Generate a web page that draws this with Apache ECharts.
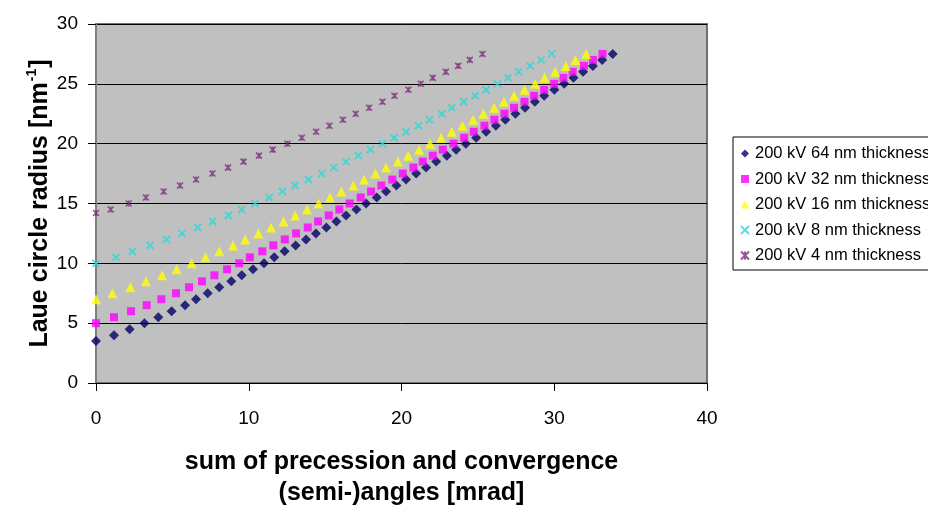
<!DOCTYPE html>
<html>
<head>
<meta charset="utf-8">
<script src="https://cdn.jsdelivr.net/npm/echarts@6/dist/echarts.min.js"></script>
<style>
  html, body { margin: 0; padding: 0; background: #fff; }
  #chart { width: 928px; height: 506px; }
</style>
</head>
<body>
<div id="chart"></div>
<script>
// [mrad, nm^-1] pairs
var thick64 = [[0,3.5],[1.18,4],[2.2,4.5],[3.17,5],[4.08,5.5],[4.95,6],[5.83,6.5],[6.55,7],[7.31,7.5],[8.07,8],
  [8.86,8.5],[9.54,9],[10.28,9.5],[11,10],[11.67,10.5],[12.35,11],[13.07,11.5],[13.75,12],[14.4,12.5],[15.08,13],
  [15.74,13.5],[16.37,14],[17.05,14.5],[17.68,15],[18.38,15.5],[18.99,16],[19.67,16.5],[20.3,17],[20.96,17.5],[21.61,18],
  [22.27,18.5],[22.97,19],[23.58,19.5],[24.21,20],[24.89,20.5],[25.54,21],[26.18,21.5],[26.8,22],[27.46,22.5],[28.09,23],
  [28.73,23.5],[29.34,24],[30.01,24.5],[30.65,25],[31.26,25.5],[31.89,26],[32.53,26.5],[33.14,27],[33.83,27.5]];
var thick32 = [[0,5],[1.18,5.5],[2.29,6],[3.32,6.5],[4.28,7],[5.24,7.5],[6.09,8],[6.94,8.5],[7.75,9],[8.58,9.5],
  [9.38,10],[10.07,10.5],[10.89,11],[11.61,11.5],[12.36,12],[13.1,12.5],[13.86,13],[14.54,13.5],[15.24,14],[15.93,14.5],
  [16.61,15],[17.33,15.5],[18.01,16],[18.68,16.5],[19.4,17],[20.08,17.5],[20.78,18],[21.39,18.5],[22.05,19],[22.7,19.5],
  [23.4,20],[24.1,20.5],[24.73,21],[25.43,21.5],[26.08,22],[26.74,22.5],[27.37,23],[28.05,23.5],[28.68,24],[29.34,24.5],
  [30,25],[30.6,25.5],[31.2,26],[31.94,26.5],[32.53,27],[33.16,27.5]];
var thick16 = [[0,7],[1.07,7.5],[2.25,8],[3.27,8.5],[4.32,9],[5.28,9.5],[6.26,10],[7.16,10.5],[8.07,11],[8.97,11.5],
  [9.77,12],[10.63,12.5],[11.46,13],[12.27,13.5],[13.03,14],[13.82,14.5],[14.58,15],[15.32,15.5],[16.06,16],[16.85,16.5],
  [17.55,17],[18.29,17.5],[18.99,18],[19.76,18.5],[20.44,19],[21.15,19.5],[21.87,20],[22.59,20.5],[23.29,21],[23.99,21.5],
  [24.69,22],[25.36,22.5],[26.06,23],[26.7,23.5],[27.37,24],[28.05,24.5],[28.75,25],[29.36,25.5],[30.06,26],[30.76,26.5],
  [31.39,27],[32.09,27.5]];
var thick8 = [[0,10],[1.31,10.5],[2.38,11],[3.54,11.5],[4.61,12],[5.63,12.5],[6.66,13],[7.64,13.5],[8.67,14],[9.54,14.5],
  [10.41,15],[11.33,15.5],[12.2,16],[13.03,16.5],[13.9,17],[14.78,17.5],[15.57,18],[16.37,18.5],[17.18,19],[17.96,19.5],
  [18.75,20],[19.52,20.5],[20.3,21],[21.1,21.5],[21.83,22],[22.64,22.5],[23.29,23],[24.08,23.5],[24.82,24],[25.54,24.5],
  [26.28,25],[26.96,25.5],[27.66,26],[28.42,26.5],[29.14,27],[29.84,27.5]];
var thick4 = [[0,14.2],[0.96,14.5],[2.14,15],[3.27,15.5],[4.43,16],[5.5,16.5],[6.55,17],[7.62,17.5],[8.64,18],[9.66,18.5],
  [10.67,19],[11.57,19.5],[12.53,20],[13.47,20.5],[14.41,21],[15.28,21.5],[16.16,22],[17,22.5],[17.88,23],[18.75,23.5],
  [19.54,24],[20.45,24.5],[21.26,25],[22.05,25.5],[22.9,26],[23.71,26.5],[24.47,27],[25.3,27.5]];

var seriesNames = ['200 kV 64 nm thickness', '200 kV 32 nm thickness', '200 kV 16 nm thickness',
  '200 kV 8 nm thickness', '200 kV 4 nm thickness'];
var xTicks = [0, 10, 20, 30, 40];
var yTicks = [0, 5, 10, 15, 20, 25, 30];

var font = '"Liberation Sans", Arial, sans-serif';
var crossPath = 'path://M0,0L10,10M10,0L0,10';
var starPath = 'path://M0,0L10,10M10,0L0,10M5,0L5,10';

var chart = echarts.init(document.getElementById('chart'));

chart.setOption({
  animation: false,
  backgroundColor: '#fff',
  grid: {
    left: 96, top: 24, right: 221, bottom: 123,
    outerBoundsMode: 'none',
    containLabel: false,
    show: true,
    backgroundColor: '#c0c0c0',
    borderColor: '#707070',
    borderWidth: 2
  },
  legend: {
    orient: 'vertical',
    left: 733, top: 137,
    padding: [8, 10, 6, 7],
    itemGap: 8.5,
    itemWidth: 8, itemHeight: 8,
    borderColor: '#000', borderWidth: 1,
    backgroundColor: '#fff',
    textStyle: { fontFamily: font, fontSize: 16.5, color: '#000', padding: [0, 0, 0, 1] },
    data: seriesNames
  },
  xAxis: {
    type: 'value',
    min: xTicks[0], max: xTicks[xTicks.length - 1], interval: 10,
    axisLine: { lineStyle: { color: '#000', width: 1 } },
    axisTick: { length: 8, lineStyle: { color: '#000' } },
    axisLabel: { fontFamily: font, fontSize: 19, color: '#000', margin: 26 },
    splitLine: { show: false },
    name: 'sum of precession and convergence\n(semi-)angles [mrad]',
    nameLocation: 'middle',
    nameGap: 64,
    nameMoveOverlap: false,
    nameTextStyle: { fontFamily: font, fontSize: 25, fontWeight: 'bold', color: '#000', lineHeight: 31 }
  },
  yAxis: {
    type: 'value',
    min: yTicks[0], max: yTicks[yTicks.length - 1], interval: 5,
    axisLine: { show: true, lineStyle: { color: '#808080', width: 2 } },
    axisTick: { show: true, length: 8, lineStyle: { color: '#000' } },
    axisLabel: { fontFamily: font, fontSize: 19, color: '#000', margin: 18 },
    splitLine: { show: true, lineStyle: { color: '#000', width: 1 } },
    name: '{t|Laue circle radius [nm}{s|-1}{t|]}',
    nameLocation: 'middle',
    nameGap: 41,
    nameMoveOverlap: false,
    nameTextStyle: {
      rich: {
        t: { fontFamily: font, fontSize: 25, fontWeight: 'bold', color: '#000', lineHeight: 30 },
        s: { fontFamily: font, fontSize: 14, fontWeight: 'bold', color: '#000', lineHeight: 30, verticalAlign: 'top', padding: [0, 1, 10, 1] }
      }
    }
  },
  series: [
    { name: seriesNames[0], type: 'scatter', data: thick64, symbol: 'diamond', symbolSize: 10,
      itemStyle: { color: '#000066' } },
    { name: seriesNames[1], type: 'scatter', data: thick32, symbol: 'rect', symbolSize: 8,
      itemStyle: { color: '#ff00ff' } },
    { name: seriesNames[2], type: 'scatter', data: thick16, symbol: 'triangle', symbolSize: 10,
      itemStyle: { color: '#ffff00' } },
    { name: seriesNames[3], type: 'scatter', data: thick8, symbol: crossPath, symbolSize: 7,
      itemStyle: { color: 'rgba(0,0,0,0)', borderColor: '#33d6d6', borderWidth: 2 } },
    { name: seriesNames[4], type: 'scatter', data: thick4, symbol: starPath, symbolSize: 6,
      itemStyle: { color: 'rgba(0,0,0,0)', borderColor: '#7a2a7a', borderWidth: 1.5 } }
  ]
});
</script>
</body>
</html>
